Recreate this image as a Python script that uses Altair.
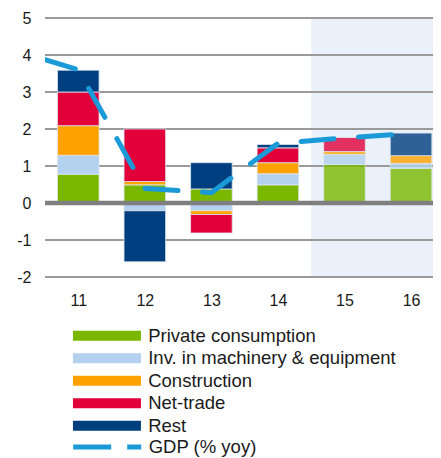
import altair as alt
import pandas as pd

years = ["11", "12", "13", "14", "15", "16"]
components = ["Private consumption", "Inv. in machinery & equipment",
              "Construction", "Net-trade", "Rest"]
private_consumption = [0.78, 0.49, 0.38, 0.49, 1.04, 0.94]
inv_machinery = [0.51, -0.21, -0.21, 0.30, 0.27, 0.13]
construction = [0.80, 0.09, -0.10, 0.30, 0.08, 0.21]
net_trade = [0.91, 1.42, -0.50, 0.40, 0.38, 0.00]
rest = [0.59, -1.38, 0.71, 0.09, 0.00, 0.61]

gdp_years = ["10", "11", "12", "13", "14", "15", "16"]
gdp = [4.15, 3.60, 0.39, 0.28, 1.61, 1.76, 1.88]
gdp_label = "GDP (% yoy)"

forecast_years = ["15", "16"]
forecast_span = [14.5, 16.6]
y_ticks = [-2, -1, 0, 1, 2, 3, 4, 5]
x_ticks = [11, 12, 13, 14, 15, 16]

colors = ["#7ab800", "#b4d1f0", "#ffa200", "#e1003a", "#003f7f"]
gdp_color = "#1a9ad6"
FONT = "Liberation Sans"

series = [private_consumption, inv_machinery, construction, net_trade, rest]
rows = []
for ci, (name, vals) in enumerate(zip(components, series)):
    for y, v in zip(years, vals):
        if v != 0:
            rows.append({"year": y, "component": name, "order": ci, "value": v})
bar_df = pd.DataFrame(rows)
gdp_df = pd.DataFrame({"year": gdp_years, "gdp": gdp, "series": gdp_label})
shade_df = pd.DataFrame({"start": [forecast_span[0]], "end": [forecast_span[1]],
                         "lo": [y_ticks[0]], "hi": [y_ticks[-1]]})
grid_df = pd.DataFrame({"v": y_ticks})

xscale = alt.Scale(domain=[10.5, 16.33], nice=False, zero=False)
yscale = alt.Scale(domain=[-2, 5], nice=False, zero=False)
yaxis = alt.Axis(values=y_ticks, tickCount=8, grid=False, labelPadding=14, title=None,
                 labelOverlap=False, labelExpr="'' + datum.value")
xaxis = alt.Axis(values=x_ticks, format="d", grid=False, labelPadding=15, title=None,
                 labelOverlap=False)

shade = alt.Chart(shade_df).mark_rect(color="#eaf1fa", clip=True).encode(
    x=alt.X("start:Q", scale=xscale, title=None, axis=xaxis),
    x2="end:Q",
    y=alt.Y("lo:Q", scale=yscale, title=None, axis=yaxis),
    y2="hi:Q",
)

grid = alt.Chart(grid_df).transform_filter("datum.v != 0").mark_rule(
    color="#9a9a9a", strokeWidth=2).encode(y=alt.Y("v:Q", title=None, axis=yaxis))

bars = alt.Chart(bar_df).transform_stack(
    stack="value", groupby=["year"], as_=["v0", "v1"],
    sort=[alt.SortField("order", order="ascending")]
).transform_calculate(
    xa="toNumber(datum.year) - 0.3125",
    xb="toNumber(datum.year) + 0.3125",
    op="indexof(%s, datum.year) >= 0 ? 0.8 : 1" % str(forecast_years).replace("'", '"'),
).mark_rect(stroke="#dde6f0", strokeWidth=0.8).encode(
    x=alt.X("xa:Q", title=None, axis=xaxis),
    x2="xb:Q",
    y=alt.Y("v0:Q", title=None, axis=yaxis),
    y2="v1:Q",
    fill=alt.Fill("component:N",
                  scale=alt.Scale(domain=components, range=colors),
                  sort=components,
                  legend=alt.Legend(
                      title=None, orient="none", legendX=52.7, legendY=308.5,
                      symbolType="M-5,-0.735L5,-0.735L5,0.735L-5,0.735Z",
                      symbolSize=185, symbolStrokeWidth=0, symbolOpacity=1,
                      labelFont=FONT, labelFontSize=18.5, labelColor="#1a1a1a",
                      labelOffset=32, rowPadding=3.5, labelLimit=400)),
    opacity=alt.Opacity("op:Q", scale=None, legend=None),
)

zero = alt.Chart(grid_df).transform_filter("datum.v == 0").mark_rule(
    color="#7f7f7f", strokeWidth=4.5).encode(y=alt.Y("v:Q", title=None, axis=yaxis))

line = alt.Chart(gdp_df).transform_calculate(
    xn="toNumber(datum.year)"
).mark_line(clip=True, strokeWidth=5, strokeCap="round", strokeJoin="round",
            strokeDash=[33, 24.5], strokeDashOffset=24).encode(
    x=alt.X("xn:Q", title=None, axis=xaxis),
    y=alt.Y("gdp:Q", title=None, axis=yaxis),
    stroke=alt.Stroke("series:N", scale=alt.Scale(range=[gdp_color]),
                      legend=alt.Legend(
                          title=None, orient="none", legendX=52.7, legendY=419.5,
                          symbolType="M-5,0L5,0", symbolSize=185,
                          symbolStrokeWidth=5, symbolDash=[38, 16],
                          labelFont=FONT, labelFontSize=18.5, labelColor="#1a1a1a",
                          labelOffset=32)),
)

chart = alt.layer(shade, grid, bars, zero, line).properties(
    width=388, height=259,
    autosize=alt.AutoSizeParams(type="none"),
    padding={"left": 37, "top": 10, "right": 0, "bottom": 190},
).configure_view(stroke=None).configure_axis(
    labelFont=FONT, labelFontSize=16, labelColor="#1a1a1a",
    domain=False, ticks=False, tickSize=0, labelOverlap=False,
)

chart.save("out.html", embed_options={"renderer": "svg", "actions": False})
